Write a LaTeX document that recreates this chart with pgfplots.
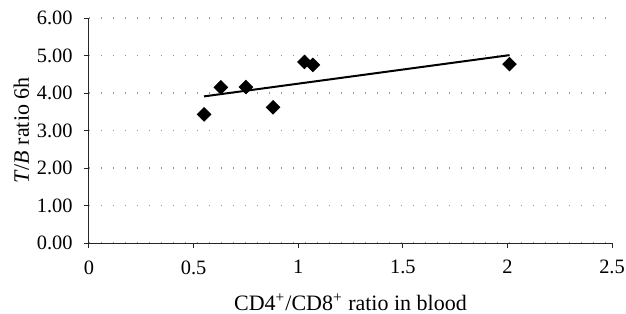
\documentclass[border=0pt]{standalone}
\usepackage{fontspec}
\setmainfont{Liberation Serif}
\usepackage{pgfplots}
\pgfplotsset{compat=1.18}
\begin{document}
\begin{tikzpicture}
\begin{axis}[
  name=ax,
  scale only axis,
  width=261.5pt, height=112.5pt,
  xmin=0, xmax=2.5, ymin=0, ymax=6,
  axis lines=left,
  axis line style={black!85, line width=0.5pt, -},
  xtick={0,0.5,1,1.5,2,2.5},
  xticklabels={0,0.5,1,1.5,2,2.5},
  ytick={0,1,2,3,4,5,6},
  yticklabel style={xshift=-2.2pt, /pgf/number format/fixed, /pgf/number format/fixed zerofill, /pgf/number format/precision=2},
  /pgf/number format/assume math mode=true,
  tick align=outside,
  major tick length=2.5pt,
  tick style={black!85, line width=0.5pt},
  ymajorgrids,
  grid style={gray!80, line width=0.6pt, dash pattern=on 0.6pt off 5.4pt},
  ticklabel style={font=\fontsize{10.2}{12}\selectfont},
  xticklabel style={yshift=-2.7pt},
  xlabel={CD4\textsuperscript{+}/CD8\textsuperscript{+} ratio in blood},
  ylabel={\textit{T}/\textit{B} ratio 6h},
  label style={font=\fontsize{11}{13}\selectfont},
  xlabel style={yshift=-3pt},
  ylabel style={yshift=-3pt},
  clip=false,
]
\addplot[only marks, mark=square*, mark size=2.4pt, mark options={rotate=45, fill=black, draw=black}]
  coordinates {(0.55,3.43) (0.63,4.15) (0.75,4.16) (0.88,3.62) (1.03,4.83) (1.07,4.75) (2.01,4.77)};
\addplot[black, line width=1pt, no marks] coordinates {(0.55,3.91) (2.01,5.01)};
\end{axis}
\pgfresetboundingbox
\path[use as bounding box] ([xshift=-44.5pt,yshift=-35pt]ax.south west) rectangle ([xshift=7pt,yshift=9pt]ax.north east);
\end{tikzpicture}
\end{document}
